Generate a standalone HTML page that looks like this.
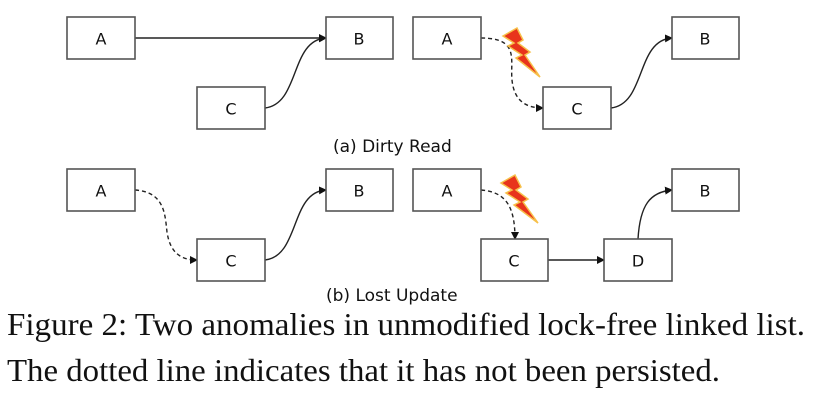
<!DOCTYPE html>
<html><head><meta charset="utf-8"><style>
html,body{margin:0;padding:0;background:#fff;}
svg{display:block;}
.box{fill:#fff;stroke:#555;stroke-width:1.6;}
.lbl{font-family:"DejaVu Sans","Liberation Sans",sans-serif;font-size:16px;fill:#111;text-anchor:middle;dominant-baseline:central;}
.cap{font-family:"DejaVu Sans","Liberation Sans",sans-serif;font-size:17px;fill:#111;}
.fig{font-family:"Liberation Serif",serif;font-size:32px;fill:#111;}
.ln{fill:none;stroke:#222;stroke-width:1.4;}
.dash{stroke-dasharray:4,3;}
</style></head><body>
<svg width="818" height="400" viewBox="0 0 818 400" xmlns="http://www.w3.org/2000/svg">
<defs>
<marker id="ar" markerWidth="8" markerHeight="8" refX="7" refY="4" orient="auto" markerUnits="userSpaceOnUse">
<path d="M0,0 L8,4 L0,8 z" fill="#111"/></marker>
</defs>

<g>
<path class="ln" d="M135,38 L326,38" marker-end="url(#ar)"/>
<path class="ln" d="M265,108 C300,104 290,40 326,38" marker-end="url(#ar)"/>
<rect class="box" x="67" y="17" width="68" height="42"/><text class="lbl" x="101" y="39">A</text>
<rect class="box" x="326" y="17" width="67" height="42"/><text class="lbl" x="359" y="39">B</text>
<rect class="box" x="197" y="87" width="68" height="42"/><text class="lbl" x="231" y="109">C</text>
</g>

<g>
<path class="ln dash" d="M481,38 C520,38 510,60 512,80 C514,100 525,108 543,108" marker-end="url(#ar)"/>
<path class="ln" d="M611,108 C646,104 636,40 672,38" marker-end="url(#ar)"/>
<rect class="box" x="413" y="17" width="68" height="42"/><text class="lbl" x="447" y="39">A</text>
<rect class="box" x="672" y="17" width="67" height="42"/><text class="lbl" x="705" y="39">B</text>
<rect class="box" x="543" y="87" width="68" height="42"/><text class="lbl" x="577" y="109">C</text>
<path d="M503,36 L517,28 L523,40 L518,43 L530,52 L525,55 L540,77 L516,58 L522,55 L508,46 L514,43 Z" fill="#e8341c" stroke="#f7c04a" stroke-width="1.5"/>
</g>

<text class="cap" x="333" y="152">(a) Dirty Read</text>

<g>
<path class="ln dash" d="M135,190 C165,192 165,215 167,232 C170,252 180,260 197,260" marker-end="url(#ar)"/>
<path class="ln" d="M265,260 C300,256 290,192 326,190" marker-end="url(#ar)"/>
<rect class="box" x="67" y="169" width="68" height="42"/><text class="lbl" x="101" y="191">A</text>
<rect class="box" x="326" y="169" width="67" height="42"/><text class="lbl" x="359" y="191">B</text>
<rect class="box" x="197" y="239" width="68" height="42"/><text class="lbl" x="231" y="261">C</text>
</g>

<g>
<path class="ln dash" d="M481,190 C505,192 515,205 515,239" marker-end="url(#ar)"/>
<path class="ln" d="M548,260 L604,260" marker-end="url(#ar)"/>
<path class="ln" d="M638,239 C640,205 650,192 672,190" marker-end="url(#ar)"/>
<rect class="box" x="413" y="169" width="68" height="42"/><text class="lbl" x="447" y="191">A</text>
<rect class="box" x="672" y="169" width="67" height="42"/><text class="lbl" x="705" y="191">B</text>
<rect class="box" x="481" y="239" width="67" height="42"/><text class="lbl" x="514" y="261">C</text>
<rect class="box" x="604" y="239" width="68" height="42"/><text class="lbl" x="638" y="261">D</text>
<path d="M501,183 L515,175 L521,187 L516,190 L528,199 L523,202 L538,223 L514,205 L520,202 L506,193 L512,190 Z" fill="#e8341c" stroke="#f7c04a" stroke-width="1.5"/>
</g>

<text class="cap" x="326" y="301">(b) Lost Update</text>

<text class="fig" x="7" y="335" textLength="798" lengthAdjust="spacingAndGlyphs">Figure 2: Two anomalies in unmodified lock-free linked list.</text>
<text class="fig" x="7" y="381" textLength="713" lengthAdjust="spacingAndGlyphs">The dotted line indicates that it has not been persisted.</text>
</svg>
</body></html>
